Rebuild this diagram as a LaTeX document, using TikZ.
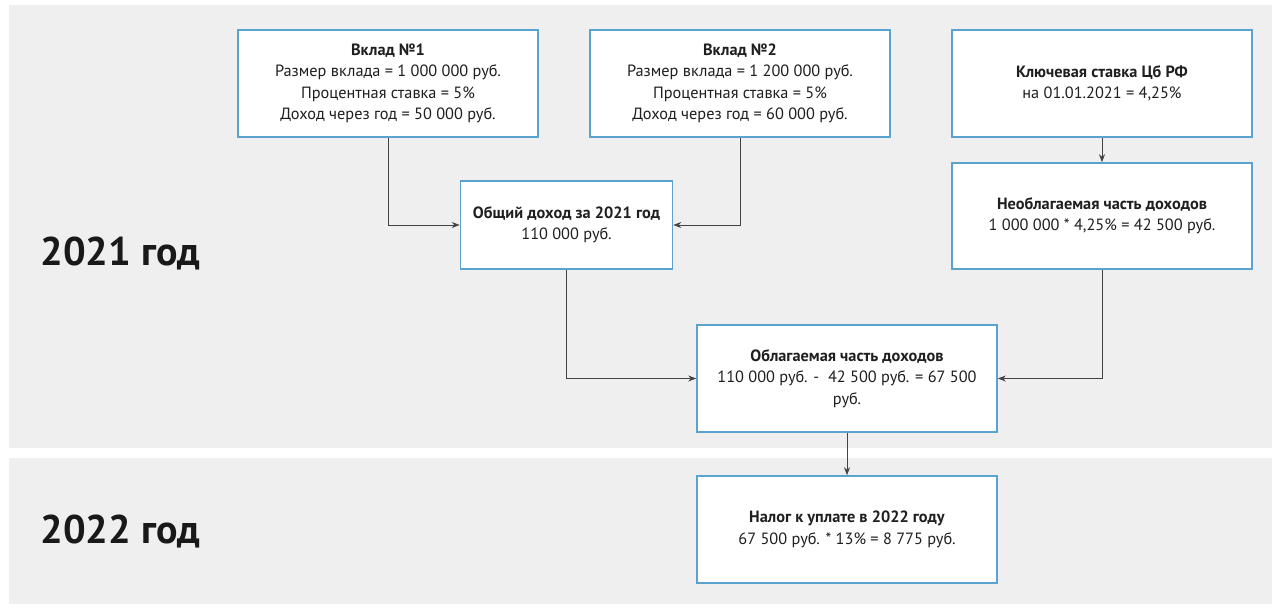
\documentclass[tikz,border=0pt]{standalone}
\usepackage{fontspec}
\setmainfont{PT Sans}
\usetikzlibrary{arrows.meta}
\definecolor{panel}{HTML}{EFEFEF}
\definecolor{boxline}{HTML}{5AA3CE}
\definecolor{conn}{HTML}{444444}
\begin{document}
\begin{tikzpicture}[x=1pt,y=-1pt,
  infobox/.style={draw=boxline,line width=1.6pt,fill=white,inner sep=0pt,
    align=center,font=\fontsize{16.3}{21.4}\selectfont,text=black!88},
  conline/.style={draw=conn,line width=0.8pt,-{Stealth[length=8pt,width=6pt]}},
  yearlabel/.style={font=\fontsize{40}{44}\selectfont\bfseries,text=black!90,anchor=west}]
\useasboundingbox (0,0) rectangle (1280,614);
\fill[white] (0,0) rectangle (1280,614);
\fill[panel] (9,5) rectangle (1272,448);
\fill[panel] (9,458) rectangle (1272,604);
\node[yearlabel] (y1) at (37,253) {2021 год};
\node[yearlabel] (y2) at (37,531) {2022 год};
% boxes
\node[infobox,minimum width=300pt,minimum height=107pt] (v1) at (388,83.5)
  {\textbf{Вклад №1}\\Размер вклада = 1 000 000 руб.\\Процентная ставка = 5\%\\Доход через год = 50 000 руб.};
\node[infobox,minimum width=300pt,minimum height=107pt] (v2) at (740,83.5)
  {\textbf{Вклад №2}\\Размер вклада = 1 200 000 руб.\\Процентная ставка = 5\%\\Доход через год = 60 000 руб.};
\node[infobox,minimum width=300pt,minimum height=107pt] (ks) at (1102,83.5)
  {\textbf{Ключевая ставка Цб РФ}\\на 01.01.2021 = 4,25\%};
\node[infobox,minimum width=300pt,minimum height=106pt] (nc) at (1102,216)
  {\textbf{Необлагаемая часть доходов}\\1 000 000 * 4,25\% = 42 500 руб.};
\node[infobox,minimum width=212pt,minimum height=88pt] (od) at (566.5,225)
  {\textbf{Общий доход за 2021 год}\\110 000 руб.};
\node[infobox,minimum width=300pt,minimum height=107pt] (ob) at (847,378.5)
  {\textbf{Облагаемая часть доходов}\\110 000 руб. -\ \ 42 500 руб. = 67 500\\руб.};
\node[infobox,minimum width=300pt,minimum height=107pt] (nl) at (847,529.5)
  {\textbf{Налог к уплате в 2022 году}\\67 500 руб. * 13\% = 8 775 руб.};
% connectors
\draw[conline] (v1.south) |- (od.west);
\draw[conline] (v2.south) |- (od.east);
\draw[conline] (ks.south) -- (nc.north);
\draw[conline] (od.south) |- (ob.west);
\draw[conline] (nc.south) |- (ob.east);
\draw[conline] (ob.south) -- (nl.north);
\end{tikzpicture}
\end{document}
